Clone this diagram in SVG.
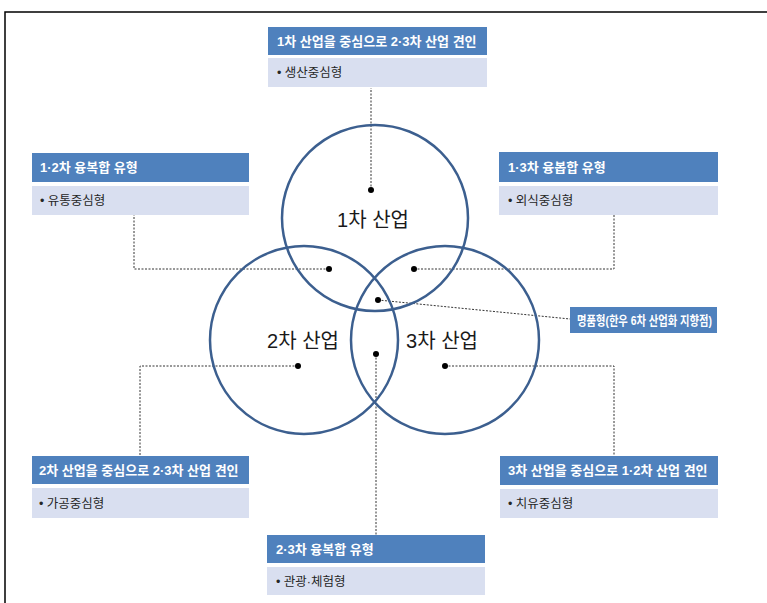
<svg xmlns="http://www.w3.org/2000/svg" width="767" height="603" viewBox="0 0 767 603">
<style>
.hd{fill:#4f81bd}
.bd{fill:#d9dff0}
.ht{font-family:"Liberation Sans","Noto Sans CJK KR",sans-serif;font-size:13px;font-weight:bold;fill:#ffffff}
.bt{font-family:"Liberation Sans","Noto Sans CJK KR",sans-serif;font-size:12.5px;fill:#262626}
.ct{font-family:"Liberation Sans","Noto Sans CJK KR",sans-serif;font-size:20px;fill:#1a1a1a;text-anchor:middle}
.circ{fill:none;stroke:#3c5f8f;stroke-width:2.5}
.con{fill:none;stroke:#333333;stroke-width:1;stroke-dasharray:2 1.5}
.dot{fill:#000000}
</style>
<rect x="5" y="12" width="780" height="600" fill="#ffffff" stroke="#000000" stroke-width="1.5"/>
<g id="connectors">
<path class="con" d="M371,190 V88"/>
<path class="con" d="M329,269 H134 V215"/>
<path class="con" d="M414,269 H614 V215"/>
<path class="con" d="M378,300 L570,319"/>
<path class="con" d="M298,366 H140 V456"/>
<path class="con" d="M445,366 H614 V456"/>
<path class="con" d="M376,354 V535"/>
</g>
<g id="circle1"><circle class="circ" cx="375" cy="218" r="93"/><text class="ct" x="373" y="227">1차 산업</text></g>
<g id="circle2"><circle class="circ" cx="304" cy="340" r="94"/><text class="ct" x="303" y="348">2차 산업</text></g>
<g id="circle3"><circle class="circ" cx="445" cy="340" r="94"/><text class="ct" x="442" y="348">3차 산업</text></g>
<g id="dots">
<circle class="dot" cx="371" cy="190" r="3"/>
<circle class="dot" cx="329" cy="269" r="3"/>
<circle class="dot" cx="414" cy="269" r="3"/>
<circle class="dot" cx="378" cy="300" r="3"/>
<circle class="dot" cx="298" cy="366" r="3"/>
<circle class="dot" cx="376" cy="354" r="3"/>
<circle class="dot" cx="445" cy="366" r="3"/>
</g>
<g id="box-top">
<rect class="hd" x="268" y="27" width="219" height="28"/>
<rect class="bd" x="268" y="58" width="219" height="29"/>
<text class="ht" x="277" y="46">1차 산업을 중심으로 2·3차 산업 견인</text>
<text class="bt" x="277" y="77">• 생산중심형</text>
</g>
<g id="box-12">
<rect class="hd" x="32" y="153" width="217" height="29"/>
<rect class="bd" x="32" y="186" width="217" height="29"/>
<text class="ht" x="40" y="172">1·2차 융복합 유형</text>
<text class="bt" x="40" y="205">• 유통중심형</text>
</g>
<g id="box-13">
<rect class="hd" x="499" y="152" width="219" height="30"/>
<rect class="bd" x="499" y="186" width="219" height="29"/>
<text class="ht" x="508" y="172">1·3차 융봅합 유형</text>
<text class="bt" x="508" y="205">• 외식중심형</text>
</g>
<g id="box-premium">
<rect class="hd" x="570" y="307" width="147" height="26"/>
<text class="ht" x="577" y="325" font-size="11.5" textLength="135" lengthAdjust="spacingAndGlyphs">명품형(한우 6차 산업화 지향점)</text>
</g>
<g id="box-2">
<rect class="hd" x="32" y="456" width="217" height="28"/>
<rect class="bd" x="32" y="488" width="217" height="30"/>
<text class="ht" x="39" y="475">2차 산업을 중심으로 2·3차 산업 견인</text>
<text class="bt" x="39" y="508">• 가공중심형</text>
</g>
<g id="box-3">
<rect class="hd" x="500" y="456" width="218" height="29"/>
<rect class="bd" x="500" y="489" width="218" height="29"/>
<text class="ht" x="508" y="475">3차 산업을 중심으로 1·2차 산업 견인</text>
<text class="bt" x="508" y="508">• 치유중심형</text>
</g>
<g id="box-23">
<rect class="hd" x="267" y="535" width="218" height="28"/>
<rect class="bd" x="267" y="567" width="218" height="28"/>
<text class="ht" x="276" y="554">2·3차 융복합 유형</text>
<text class="bt" x="276" y="586">• 관광·체험형</text>
</g>
</svg>
